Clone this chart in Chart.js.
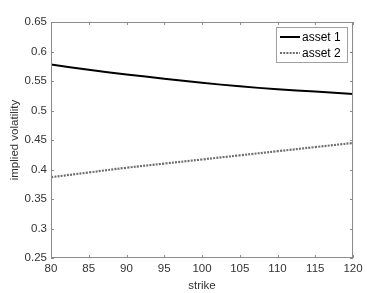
<!DOCTYPE html>
<html>
<head>
<meta charset="utf-8">
<script src="https://cdn.jsdelivr.net/npm/chart.js@4.4.1/dist/chart.umd.min.js"></script>
<style>
  html, body { margin: 0; padding: 0; background: #fff; }
  #wrap { width: 390px; height: 293px; }
</style>
</head>
<body>
<div id="wrap"><canvas id="volChart" width="390" height="293"></canvas></div>
<script>
// Strikes and implied vols
const strikes = [80, 85, 90, 95, 100, 105, 110, 115, 120];
const asset1Vol = [0.578, 0.569, 0.561, 0.554, 0.547, 0.541, 0.536, 0.532, 0.528];
const asset2Vol = [0.387, 0.395, 0.403, 0.410, 0.417, 0.424, 0.431, 0.438, 0.445];
const seriesNames = ['asset 1', 'asset 2'];
const xTicks = [80, 85, 90, 95, 100, 105, 110, 115, 120];
const yTicks = [0.25, 0.3, 0.35, 0.4, 0.45, 0.5, 0.55, 0.6, 0.65];

const FONT = '"Liberation Sans", Arial, sans-serif';
const AXIS_COLOR = '#8c8c8c';
const TEXT_COLOR = '#333333';

// Box around the plot with inward tick marks on all four sides
const boxPlugin = {
    id: 'boxPlugin',
    afterDatasetsDraw(chart) {
        const ctx = chart.ctx;
        const a = chart.chartArea;
        const xs = chart.scales.x, ys = chart.scales.y;
        ctx.save();
        ctx.strokeStyle = AXIS_COLOR;
        ctx.lineWidth = 1;
        ctx.strokeRect(a.left + 0.5, a.top + 0.5, a.right - a.left - 1, a.bottom - a.top - 1);
        ctx.beginPath();
        xTicks.forEach(v => {
            const px = Math.round(xs.getPixelForValue(v)) + 0.5;
            ctx.moveTo(px, a.bottom); ctx.lineTo(px, a.bottom - 3);
            ctx.moveTo(px, a.top); ctx.lineTo(px, a.top + 3);
        });
        yTicks.forEach(v => {
            const py = Math.round(ys.getPixelForValue(v)) + 0.5;
            ctx.moveTo(a.left, py); ctx.lineTo(a.left + 3, py);
            ctx.moveTo(a.right, py); ctx.lineTo(a.right - 3, py);
        });
        ctx.stroke();

        // legend in the top right corner
        const lx = 276, ly = 27, lw = 71, lh = 35;
        ctx.fillStyle = '#fff';
        ctx.fillRect(lx, ly, lw, lh);
        ctx.strokeStyle = '#a0a0a0';
        ctx.strokeRect(lx + 0.5, ly + 0.5, lw, lh);
        ctx.font = '12px ' + FONT;
        ctx.textBaseline = 'middle';
        chart.data.datasets.forEach((ds, i) => {
            const y = ly + 10 + i * 16;
            ctx.beginPath();
            ctx.strokeStyle = ds.borderColor;
            ctx.lineWidth = ds.borderWidth;
            ctx.setLineDash(ds.borderDash || []);
            ctx.moveTo(lx + 4, y); ctx.lineTo(lx + 24, y);
            ctx.stroke();
            ctx.setLineDash([]);
            ctx.fillStyle = '#000';
            ctx.fillText(ds.label, lx + 26, y + 1);
        });
        ctx.restore();
    }
};

const ctx = document.getElementById('volChart').getContext('2d');
new Chart(ctx, {
    type: 'line',
    data: {
        labels: strikes,
        datasets: [{
            label: seriesNames[0],
            data: strikes.map((k, i) => ({ x: k, y: asset1Vol[i] })),
            borderColor: '#000000',
            borderWidth: 2,
            pointRadius: 0,
            tension: 0.4,
            fill: false
        }, {
            label: seriesNames[1],
            data: strikes.map((k, i) => ({ x: k, y: asset2Vol[i] })),
            borderColor: '#6e6e6e',
            borderWidth: 2.2,
            borderDash: [2, 1.2],
            pointRadius: 0,
            tension: 0.4,
            fill: false
        }]
    },
    options: {
        responsive: false,
        animation: false,
        layout: { padding: { top: 22, right: 37, left: 0, bottom: 0 } },
        plugins: { legend: { display: false }, tooltip: { enabled: false } },
        scales: {
            x: {
                type: 'linear',
                min: 80, max: 120,
                afterBuildTicks: s => { s.ticks = xTicks.map(v => ({ value: v })); },
                afterFit: s => { s.height = 35; },
                grid: { display: false, drawTicks: false },
                border: { display: false },
                ticks: { color: TEXT_COLOR, font: { family: FONT, size: 11.5 }, padding: 4, maxRotation: 0 },
                title: { display: true, text: 'strike', color: TEXT_COLOR, font: { family: FONT, size: 11.5 }, padding: { top: 0, bottom: 0 } }
            },
            y: {
                min: 0.25, max: 0.65,
                afterBuildTicks: s => { s.ticks = yTicks.map(v => ({ value: v })); },
                afterFit: s => { s.width = 51; },
                grid: { display: false, drawTicks: false },
                border: { display: false },
                ticks: { color: TEXT_COLOR, font: { family: FONT, size: 11.5 }, padding: 4,
                    callback: v => String(+v.toFixed(2)) },
                title: { display: true, text: 'implied volatility', color: TEXT_COLOR, font: { family: FONT, size: 11.5 }, padding: { top: 8, bottom: 0 } }
            }
        }
    },
    plugins: [boxPlugin]
});
</script>
</body>
</html>
